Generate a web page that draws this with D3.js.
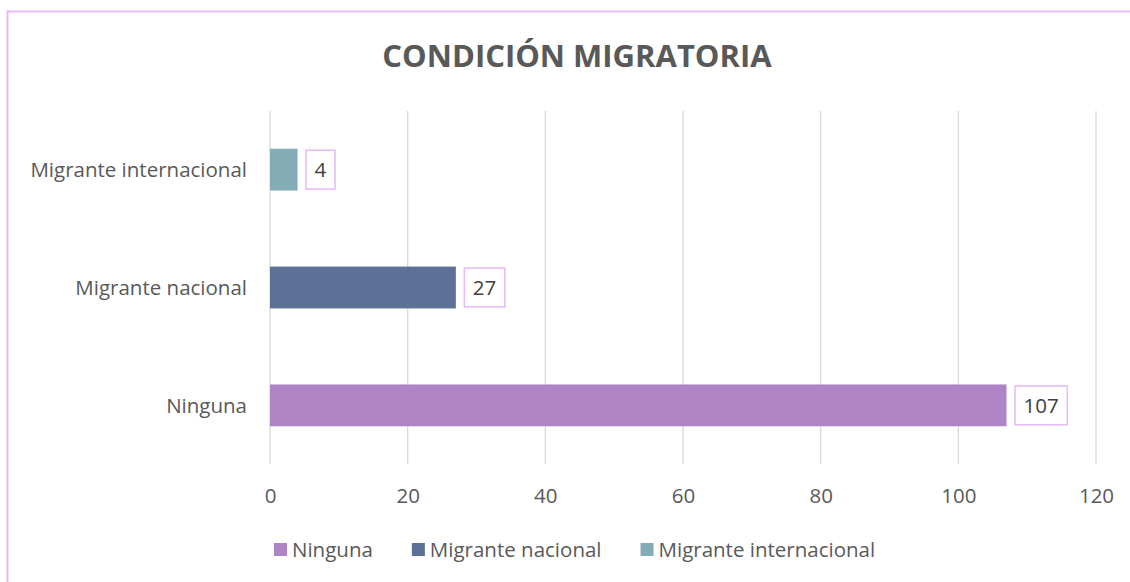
<!DOCTYPE html>
<html><head><meta charset="utf-8">
<script src="https://cdn.jsdelivr.net/npm/d3@7"></script>
<style>body{margin:0;background:#fff}svg{display:block}</style>
</head><body>
<script>
const categories = ["Ninguna", "Migrante nacional", "Migrante internacional"];
const values = [107, 27, 4];
const colors = ["#AE84C4", "#5D7096", "#84ACB6"];
const xTicks = [0, 20, 40, 60, 80, 100, 120];
const title = "CONDICIÓN MIGRATORIA";

const W = 1130, H = 582;
const font = "'Open Sans', sans-serif";
const fs = 20.5;
const txt = "#595959";
const svg = d3.select("body").append("svg").attr("width", W).attr("height", H);
svg.append("rect").attr("x", 0).attr("y", 0).attr("width", W).attr("height", H).attr("fill", "#fff");
svg.append("rect").attr("x", 7.5).attr("y", 11.5).attr("width", W + 10).attr("height", H + 10)
  .attr("fill", "none").attr("stroke", "#E6B9FA").attr("stroke-width", 2);

svg.append("text").attr("x", 577).attr("y", 67).attr("text-anchor", "middle")
  .attr("font-family", font).attr("font-weight", 700).attr("font-size", 31).attr("fill", txt)
  .text(title);

const x = d3.scaleLinear().domain([0, 120]).range([270, 1096]);
const y = d3.scaleBand().domain(categories.slice().reverse()).range([111, 464]).paddingInner(0.645).paddingOuter(0.32);

const g = svg.append("g");
g.selectAll("line.grid").data(xTicks).join("line").attr("class", "grid")
  .attr("x1", d => x(d)).attr("x2", d => x(d)).attr("y1", 111).attr("y2", 464)
  .attr("stroke", "#D9D9D9").attr("stroke-width", 1.3);

const xAxis = d3.axisBottom(x).tickValues(xTicks).tickSize(0).tickPadding(0);
const xa = svg.append("g").attr("transform", "translate(0,496)").call(xAxis);
xa.select(".domain").remove();
xa.selectAll("text").attr("font-family", font).attr("font-size", fs).attr("fill", txt).attr("dy", "0.35em");

const yAxis = d3.axisLeft(y).tickSize(0).tickPadding(0);
const ya = svg.append("g").attr("transform", "translate(247,0)").call(yAxis);
ya.select(".domain").remove();
ya.selectAll("text").attr("font-family", font).attr("font-size", fs).attr("fill", txt).attr("dy", "0.35em");

const data = categories.map((c, i) => ({c, v: values[i], col: colors[i]}));
g.selectAll("rect.bar").data(data).join("rect").attr("class", "bar")
  .attr("x", x(0)).attr("y", d => y(d.c)).attr("width", d => x(d.v) - x(0)).attr("height", y.bandwidth())
  .attr("fill", d => d.col);

const lab = g.selectAll("g.lab").data(data).join("g").attr("class", "lab");
lab.each(function(d) {
  const gg = d3.select(this);
  const t = gg.append("text").attr("x", x(d.v) + 17).attr("y", y(d.c) + y.bandwidth() / 2).attr("dy", "0.35em")
    .attr("font-family", font).attr("font-size", fs).attr("fill", "#404040").text(d.v);
  const bb = t.node().getBBox();
  gg.insert("rect", "text").attr("x", x(d.v) + 8.5).attr("y", y(d.c) + 1.5)
    .attr("width", bb.width + 17).attr("height", y.bandwidth() - 3)
    .attr("fill", "#fff").attr("stroke", "#E6B9FA").attr("stroke-width", 1.5);
});

// legend
const leg = svg.append("g");
let lx = 274;
data.forEach(d => {
  leg.append("rect").attr("x", lx).attr("y", 543).attr("width", 13).attr("height", 13).attr("fill", d.col);
  const t = leg.append("text").attr("x", lx + 18).attr("y", 549.5).attr("dy", "0.35em")
    .attr("font-family", font).attr("font-size", fs).attr("fill", txt).text(d.c);
  lx += 18 + t.node().getComputedTextLength() + 39;
});
</script>
</body></html>
